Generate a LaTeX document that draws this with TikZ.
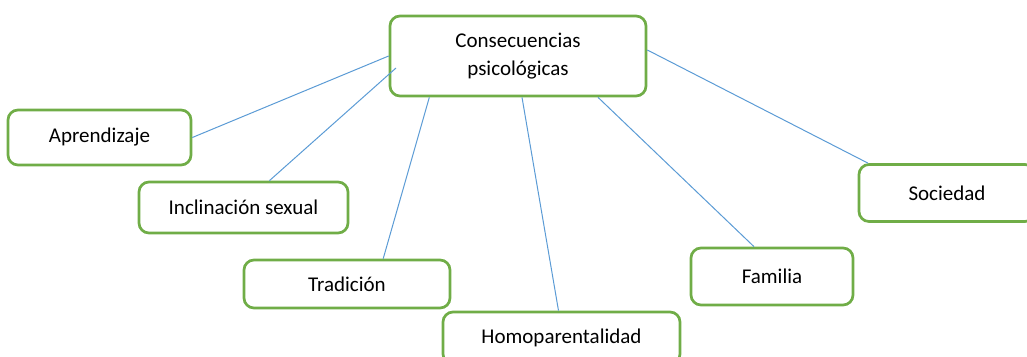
\documentclass[tikz,border=0pt]{standalone}
\usepackage{fontspec}
\setmainfont{Carlito}
\definecolor{CajaClr}{HTML}{70AD47}
\definecolor{LineaClr}{HTML}{5B9BD5}
\tikzset{
  caja/.style={draw=CajaClr,line width=2.7pt,rounded corners=10pt,fill=white,
    inner sep=0pt,align=center,font=\fontsize{21}{28}\selectfont},
  enlace/.style={draw=LineaClr,line width=1pt}
}

\begin{document}
\begin{tikzpicture}[x=1pt,y=-1pt]
\useasboundingbox (0,0) rectangle (1027,356);
\clip (0,0) rectangle (1027,356);

% cajas
\node[caja,minimum width=256pt,minimum height=80pt] (cons) at (518,56) {Consecuencias\\psicológicas};
\node[caja,minimum width=183pt,minimum height=55pt] (apr) at (99.5,137.5) {Aprendizaje};
\node[caja,minimum width=209pt,minimum height=51pt] (incl) at (243.5,207.5) {Inclinación sexual};
\node[caja,minimum width=206pt,minimum height=48pt] (trad) at (347,284) {Tradición};
\node[caja,minimum width=237pt,minimum height=52pt] (homo) at (561.5,338) {Homoparentalidad};
\node[caja,minimum width=162pt,minimum height=57pt] (fam) at (772,276.5) {Familia};
\node[caja,minimum width=176pt,minimum height=57pt] (soc) at (947,193) {Sociedad};

\coordinate (incl-fin) at (396,68);

% enlaces
\draw[enlace] (apr.east) -- (cons.west);
\draw[enlace] (incl.46) -- (incl-fin);
\draw[enlace] (trad.35) -- (cons.205);
\draw[enlace] ([xshift=-3pt]homo.north) -- ([xshift=4pt]cons.south);
\draw[enlace] ([xshift=-18pt]fam.north) -- ([xshift=80pt]cons.south);
\draw[enlace] ([xshift=-79pt]soc.north) -- ([yshift=6pt]cons.east);

\end{tikzpicture}
\end{document}
